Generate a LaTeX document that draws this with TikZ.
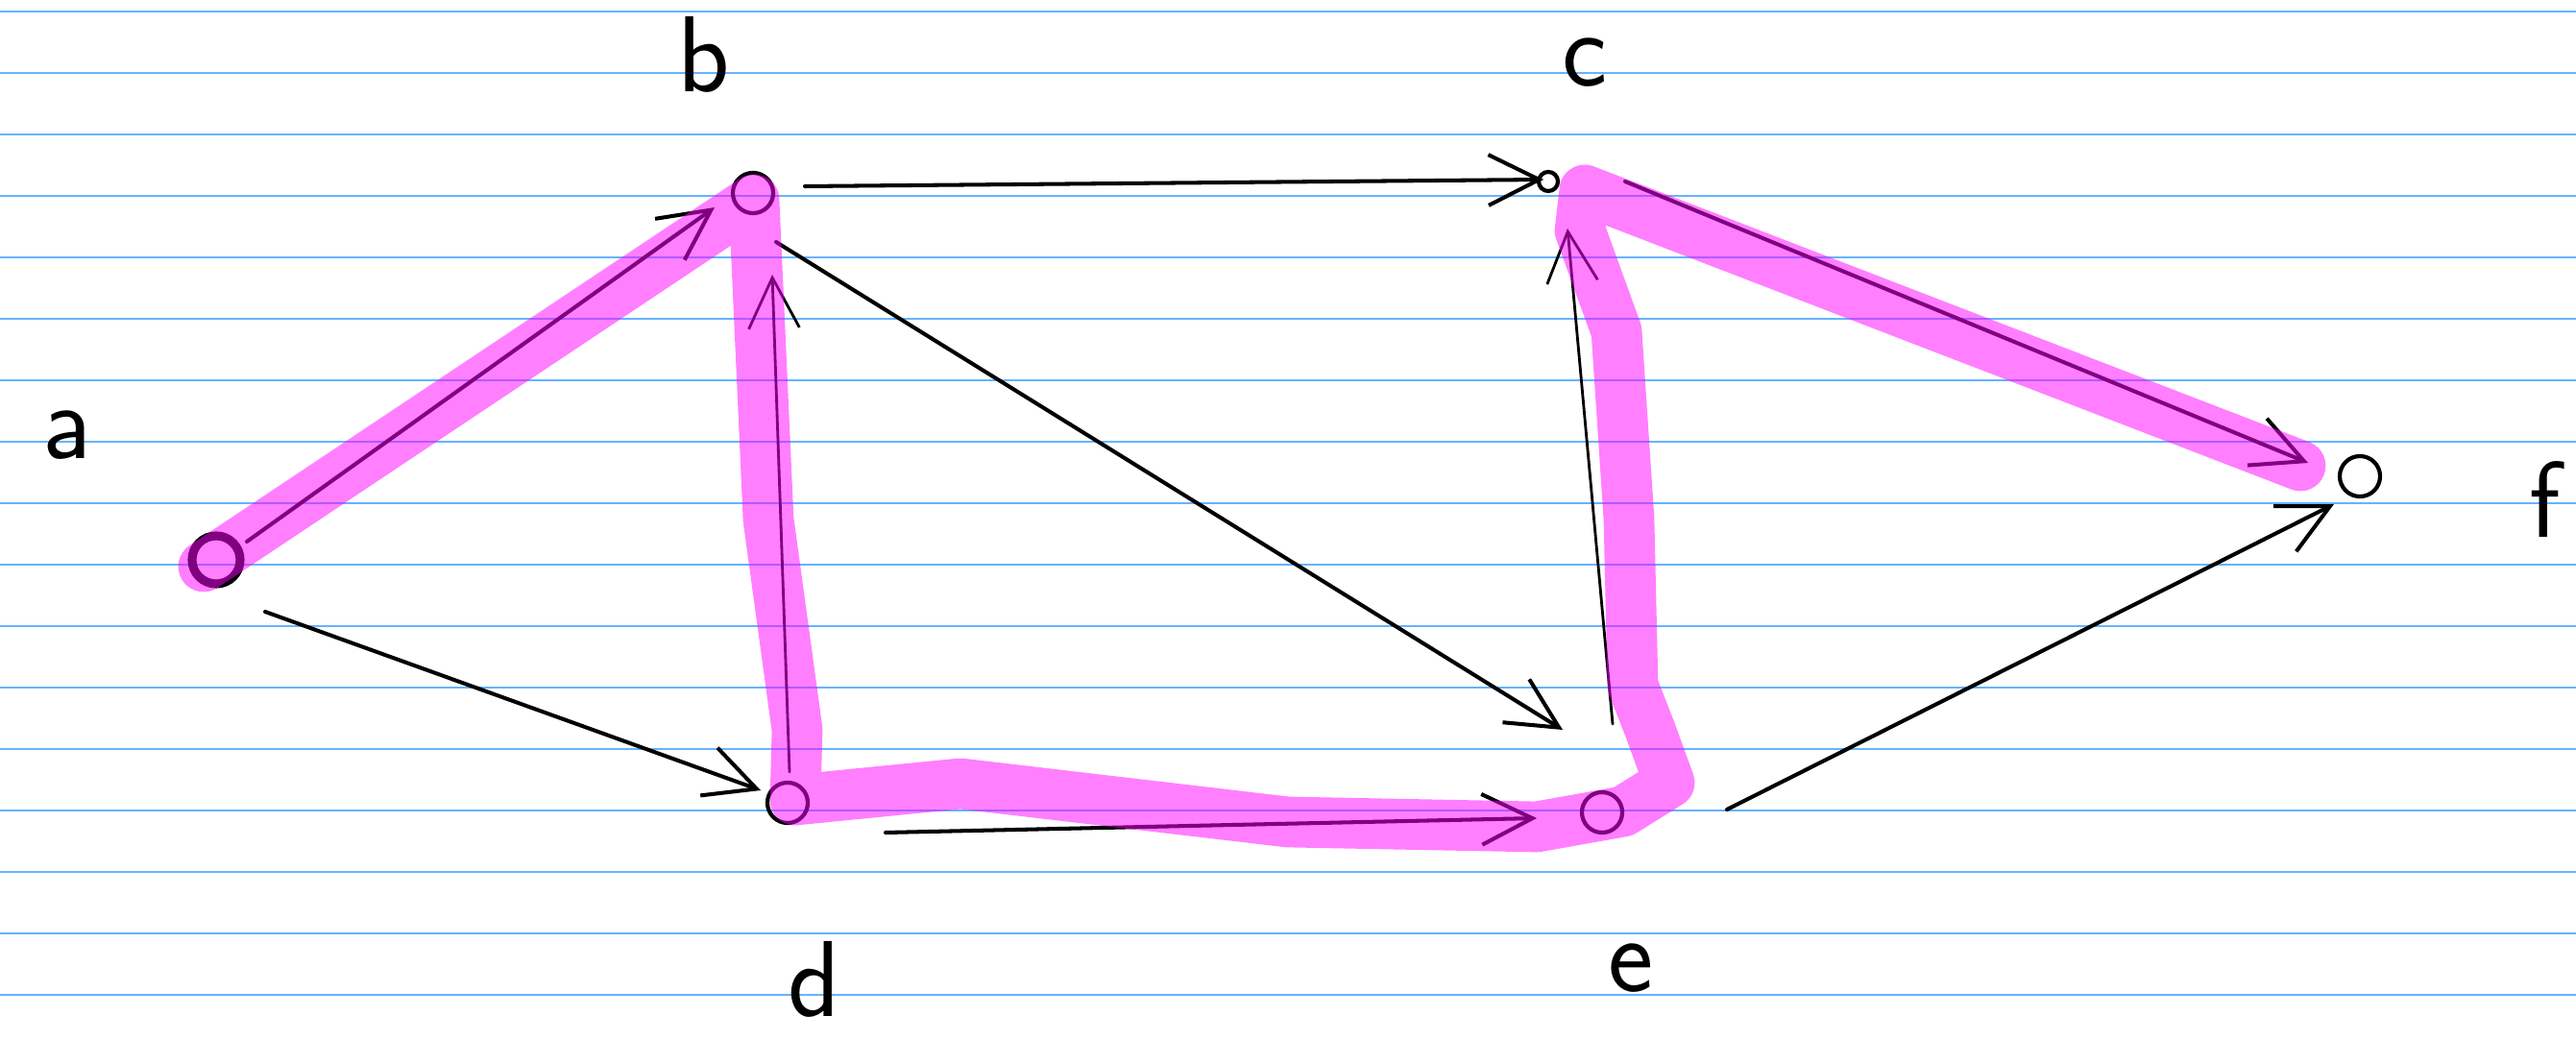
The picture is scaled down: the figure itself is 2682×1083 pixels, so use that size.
\documentclass[tikz,border=0pt]{standalone}
\usetikzlibrary{arrows.meta,calc}
\definecolor{ruleblue}{RGB}{102,179,255}
\definecolor{hilite}{RGB}{255,0,255}
\tikzset{
  vtx/.style={circle, draw=black, line width=1.2pt, inner sep=0pt, minimum size=4.2mm},
  lbl/.style={text=black, inner sep=0pt, font=\fontsize{32}{32}\selectfont\sffamily},
  arr/.style={-{Straight Barb[length=15pt,width=15pt]}, line width=1.15pt, black, line cap=round},
  thinarr/.style={arr, line width=0.8pt},
  hlpen/.style={hilite, opacity=0.5, line width=15pt, line cap=round, line join=round},
}

\begin{document}
\begin{tikzpicture}[x=0.01cm, y=-0.01cm]

    \useasboundingbox (0,0) rectangle (2682,1083);

    % 1. ruled paper
    \foreach \k in {0,...,16}
        \draw[ruleblue, line width=0.5pt] (0,12+64*\k) -- (2682,12+64*\k);

    % 2. the six vertices
    \node[vtx, line width=2.6pt, minimum size=5mm] (a) at (225,583) {};
    \node[vtx] (b) at (784,201) {};
    \node[vtx, minimum size=2mm] (c) at (1612,189) {};
    \node[vtx] (d) at (820,836) {};
    \node[vtx] (e) at (1668,846) {};
    \node[vtx] (f) at (2457,496) {};

    % 3. directed edges
    \draw[arr] ($(a)+(32,-19)$) -- ($(b)+(-40,15)$);
    \draw[arr] ($(b)+(54,-7)$) -- ($(c)+(-5,-2)$);
    \draw[thinarr] ($(d)+(2,-32)$) -- ($(b)+(20,85)$);
    \draw[arr] ($(b)+(24,51)$) -- ($(e)+(-41,-86)$);
    \draw[arr] ($(a)+(51,54)$) -- ($(d)+(-28,-13)$);
    \draw[arr] ($(d)+(102,31)$) -- ($(e)+(-68,6)$);
    \draw[thinarr] ($(e)+(11,-92)$) -- ($(c)+(20,49)$);
    \draw[arr] ($(c)+(80,0)$) -- ($(f)+(-54,-14)$);
    \draw[arr] ($(e)+(130,-3)$) -- ($(f)+(-27,29)$);

    % 4. highlighted path a-b-d-e-c-f
    \draw[hlpen] (212,590) -- (785,208) -- (800,541) -- (830,760) -- (828,833)
        -- (1000,816) -- (1341,856) -- (1600,861) -- (1690,845) -- (1738,815)
        -- (1718,760) -- (1700,714) -- (1696,541) -- (1683,345) -- (1645,240)
        -- (1650,198) -- (2395,485);

    % 5. vertex labels
    \node[lbl] (la) at ($(a)+(-155,-130)$) {a};
    \node[lbl] (lb) at ($(b)+(-51,-144)$) {b};
    \node[lbl] (lc) at ($(c)+(38,-124)$) {c};
    \node[lbl] (ld) at ($(d)+(28,184)$) {d};
    \node[lbl] (le) at ($(e)+(30,162)$) {e};
    \node[lbl] (lf) at ($(f)+(193,24)$) {f};

\end{tikzpicture}
\end{document}
